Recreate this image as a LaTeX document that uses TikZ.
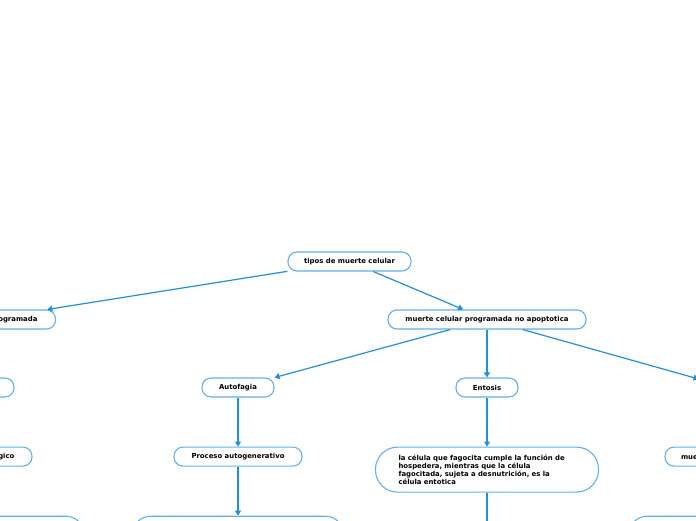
\documentclass[tikz,border=0pt]{standalone}
\usepackage{fontspec}
\setmainfont{DejaVu Sans}
\definecolor{MapLine}{RGB}{30,144,220}
\definecolor{MapEdge}{RGB}{95,178,234}
\usetikzlibrary{arrows.meta,positioning}

\begin{document}
\begin{tikzpicture}[x=1pt,y=-1pt,node distance=49pt,
  topic/.style={draw=MapEdge,fill=white,rounded corners=9pt,line width=1.1pt,
                minimum height=19pt,inner xsep=16pt,inner ysep=2pt,
                align=center,font=\fontsize{6.9}{8}\selectfont\bfseries},
  link/.style={-{Triangle[length=5pt,width=6pt]},MapLine,line width=1.2pt}]
  \useasboundingbox (0,0) rectangle (696,520);
  \clip (0,0) rectangle (696,520);
  \node[topic,minimum width=123pt](tipos) at (349.5,261.5){tipos de muerte celular};
  \node[topic,minimum width=143pt](prog) at (-16,319.5){muerte celular programada};
  \node[topic,minimum width=198pt](noapop) at (487,319.5)
       {muerte celular programada no apoptotica};
  % left column
  \node[topic,minimum width=72pt](apop) at (-22,387.5){};
  \node[topic,below=of apop,minimum width=108pt](fisio){Proceso fisiológico};
  \node[topic,below=of fisio,minimum width=212pt,minimum height=40pt,
        rounded corners=18pt](apopdet){};
  % middle columns
  \node[topic,minimum width=72pt](auto) at (238,387.5){Autofagia};
  \node[topic,below=of auto,minimum width=128pt](autogen){Proceso autogenerativo};
  \node[topic,below=of autogen,minimum width=211pt,minimum height=40pt,
        rounded corners=18pt](autodet){};
  \node[topic,minimum width=62pt](ento) at (487,387.5){Entosis};
  \node[topic,below=of ento,minimum width=223pt,minimum height=45pt,
        rounded corners=22pt,text width=177pt,inner xsep=23pt,align=left](entodesc)
       {la célula que fagocita cumple la función de\\
        hospedera, mientras que la célula\\
        fagocitada, sujeta a desnutrición, es la\\
        célula entotica};
  \node[topic,below=of entodesc,minimum width=200pt,minimum height=40pt,
        rounded corners=18pt](entodet){};
  % right column
  \node[topic,minimum width=60pt](necro) at (729,387.5){};
  \node[topic,below=of necro,text width=96pt,align=left](muer){muerte celular};
  \node[topic,below=of muer,minimum width=200pt,minimum height=40pt,
        rounded corners=18pt](necrodet){};
  \draw[link](tipos)--(prog);
  \draw[link](tipos)--(noapop);
  \draw[link](prog)--(apop);
  \draw[link](apop)--(fisio);
  \draw[link](fisio)--(apopdet);
  \draw[link](noapop)--(auto);
  \draw[link](noapop)--(ento);
  \draw[link](noapop)--(necro);
  \draw[link](auto)--(autogen);
  \draw[link](autogen)--(autodet);
  \draw[link](ento)--(entodesc);
  \draw[link](entodesc)--(entodet);
  \draw[link](necro)--(muer);
  \draw[link](muer)--(necrodet);
\end{tikzpicture}
\end{document}
